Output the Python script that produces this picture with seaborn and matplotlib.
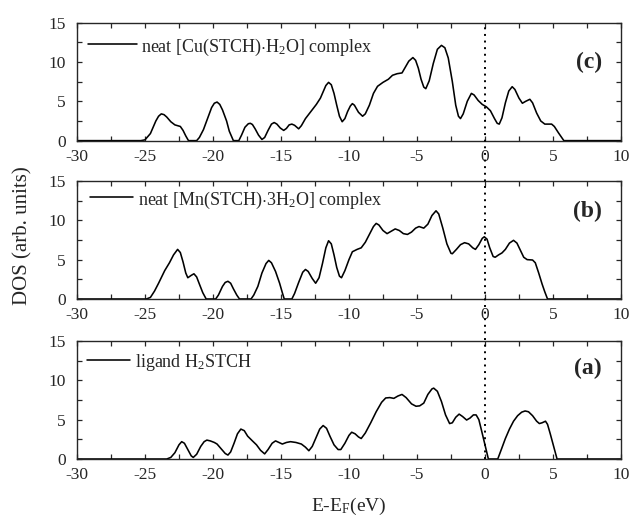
import numpy as np
import pandas as pd
import matplotlib
matplotlib.use("Agg")
import matplotlib.pyplot as plt
from matplotlib.lines import Line2D
import seaborn as sns

# Total density of states, energies relative to the Fermi level (eV)
energy_cu = [-30, -25.3, -25.0, -24.6, -24.2, -24.0, -23.8, -23.6, -23.4, -23.1, -22.8, -22.6,
             -22.4, -22.2, -22.0, -21.8, -21.2, -21.0, -20.7, -20.4, -20.1, -19.9, -19.7,
             -19.5, -19.3, -19.0, -18.8, -18.6, -18.5, -18.1, -17.9, -17.65, -17.4, -17.25,
             -17.1, -16.9, -16.65, -16.4, -16.2, -15.95, -15.7, -15.5, -15.3, -15.05, -14.8,
             -14.6, -14.4, -14.2, -14.0, -13.7, -13.5, -13.2, -12.8, -12.4, -12.1, -11.9,
             -11.7, -11.5, -11.3, -11.1, -10.9, -10.7, -10.5, -10.3, -10.1, -9.9, -9.75,
             -9.6, -9.3, -9.0, -8.8, -8.5, -8.2, -7.9, -7.5, -7.1, -6.8, -6.46, -6.1, -5.9,
             -5.6, -5.3, -5.1, -4.9, -4.7, -4.5, -4.35, -4.1, -3.8, -3.5, -3.2, -2.95, -2.7,
             -2.4, -2.15, -1.95, -1.8, -1.6, -1.3, -1.0, -0.8, -0.5, -0.2, 0.1, 0.4, 0.7,
             0.9, 1.05, 1.25, 1.5, 1.75, 2.0, 2.2, 2.5, 2.75, 3.0, 3.3, 3.5, 3.8, 4.1, 4.4,
             4.9, 5.1, 5.4, 5.8, 10]
dos_cu = [0, 0, 0.1, 0.9, 2.5, 3.1, 3.4, 3.3, 3.0, 2.4, 2.0, 1.9,
          1.8, 1.3, 0.6, 0, 0, 0.4, 1.4, 2.8, 4.2, 4.75, 4.9,
          4.6, 3.9, 2.5, 1.2, 0.4, 0, 0, 0.7, 1.7, 2.15, 2.2,
          2.05, 1.5, 0.7, 0.15, 0.4, 1.3, 2.1, 2.3, 2.1, 1.6, 1.3,
          1.55, 2.0, 2.1, 1.95, 1.5, 1.9, 2.8, 3.7, 4.6, 5.4, 6.2,
          7.0, 7.4, 7.1, 6.0, 4.5, 3.1, 2.4, 2.8, 3.7, 4.4, 4.7,
          4.5, 3.6, 3.1, 3.4, 4.5, 6.0, 6.9, 7.4, 7.8, 8.3, 8.5, 8.6, 9.2,
          10.1, 10.55, 10.2, 9.2, 7.8, 6.8, 6.6, 7.6, 9.8, 11.6, 12.1, 11.8, 10.5,
          7.5, 4.5, 3.1, 2.8, 3.4, 5.0, 6.0, 5.8, 5.1, 4.6, 4.3, 3.8, 2.8,
          2.2, 2.1, 2.9, 4.8, 6.3, 6.85, 6.5, 5.4, 4.75, 5.0, 5.25, 4.8, 3.5, 2.5, 2.1,
          2.1, 1.8, 1.0, 0, 0]

energy_mn = [-30, -24.9, -24.6, -24.3, -24.0, -23.55, -23.2, -22.9, -22.6, -22.4, -22.2,
             -22.0, -21.85, -21.6, -21.4, -21.2, -21.0, -20.75, -20.5, -19.8, -19.6, -19.3,
             -19.1, -18.9, -18.7, -18.5, -18.25, -18.05, -17.2, -17.0, -16.7, -16.4, -16.1,
             -15.9, -15.7, -15.4, -15.1, -14.9, -14.76, -14.2, -14.0, -13.7, -13.4, -13.2,
             -13.0, -12.7, -12.45, -12.2, -11.95, -11.7, -11.5, -11.3, -11.1, -10.9, -10.7,
             -10.55, -10.3, -10.0, -9.75, -9.4, -9.1, -8.8, -8.5, -8.2, -8.0, -7.8, -7.5,
             -7.2, -6.9, -6.6, -6.3, -6.0, -5.7, -5.4, -5.1, -4.85, -4.5, -4.2, -3.9, -3.6,
             -3.4, -3.1, -2.8, -2.5, -2.4, -2.1, -1.8, -1.5, -1.2, -0.9, -0.7, -0.45, -0.2,
             -0.05, 0.15, 0.35, 0.6, 0.75, 1.0, 1.25, 1.5, 1.8, 2.1, 2.35, 2.6, 2.85, 3.1,
             3.5, 3.7, 3.95, 4.2, 4.4, 4.6, 10]
dos_mn = [0, 0, 0.2, 1.0, 2.0, 3.6, 4.6, 5.6, 6.3, 5.9, 4.7,
          3.3, 2.7, 3.0, 3.2, 2.8, 1.9, 0.8, 0, 0, 0.5, 1.6,
          2.1, 2.25, 2.0, 1.3, 0.5, 0, 0, 0.5, 1.6, 3.3, 4.5,
          4.9, 4.6, 3.5, 2.0, 0.8, 0, 0, 0.7, 2.1, 3.4, 3.75,
          3.5, 2.6, 2.0, 2.7, 4.5, 6.5, 7.4, 7.0, 5.6, 4.0, 2.9,
          2.7, 3.6, 5.0, 6.0, 6.3, 6.5, 7.2, 8.2, 9.2, 9.6, 9.4, 8.7,
          8.3, 8.6, 8.9, 8.7, 8.3, 8.2, 8.5, 9.0, 9.2, 9.0, 9.5, 10.6, 11.2,
          10.8, 9.0, 7.0, 5.8, 5.75, 6.3, 6.9, 7.15, 7.0, 6.5, 6.3, 6.9, 7.7,
          7.9, 7.6, 6.5, 5.4, 5.3, 5.6, 5.85, 6.3, 7.1, 7.45, 7.1, 6.2, 5.3, 5.0,
          4.95, 4.6, 3.3, 1.9, 0.9, 0, 0]

energy_lig = [-30, -23.4, -23.1, -22.8, -22.5, -22.3, -22.1, -21.85, -21.6, -21.45, -21.2,
              -20.9, -20.65, -20.45, -20.2, -19.9, -19.7, -19.4, -19.1, -18.9, -18.7, -18.45,
              -18.2, -17.95, -17.7, -17.45, -17.1, -16.8, -16.5, -16.2, -15.95, -15.65, -15.4,
              -15.15, -14.9, -14.6, -14.3, -13.9, -13.5, -13.2, -12.95, -12.7, -12.4, -12.15,
              -11.9, -11.65, -11.4, -11.1, -10.8, -10.6, -10.3, -10.0, -9.8, -9.55, -9.3,
              -9.1, -8.8, -8.4, -8.0, -7.6, -7.3, -7.0, -6.7, -6.4, -6.1, -5.8, -5.4, -5.07,
              -4.8, -4.5, -4.2, -3.9, -3.77, -3.5, -3.2, -2.9, -2.6, -2.4, -2.15, -1.9, -1.65,
              -1.35, -1.1, -0.85, -0.65, -0.45, -0.25, 0.0, 0.25, 0.94, 1.2, 1.5, 1.8, 2.1,
              2.4, 2.7, 2.95, 3.2, 3.5, 3.8, 4.0, 4.2, 4.45, 4.6, 4.8, 5.05, 5.3, 10]
dos_lig = [0, 0, 0.2, 0.8, 1.8, 2.2, 2.0, 1.2, 0.4, 0.2, 0.6,
           1.6, 2.2, 2.4, 2.3, 2.1, 1.9, 1.3, 0.7, 0.5, 0.9, 2.0,
           3.2, 3.8, 3.6, 2.9, 2.3, 1.8, 1.1, 0.65, 1.2, 2.0, 2.3,
           2.1, 1.9, 2.1, 2.2, 2.1, 1.9, 1.5, 1.05, 1.6, 2.8, 3.8,
           4.25, 3.9, 2.9, 1.8, 1.2, 1.2, 2.0, 3.0, 3.4, 3.2, 2.8,
           2.6, 3.3, 4.6, 6.0, 7.2, 7.75, 7.8, 7.7, 8.0, 8.2, 7.8, 7.0, 6.7,
           6.75, 7.1, 8.2, 8.9, 9.0, 8.6, 7.3, 5.6, 4.5, 4.6, 5.3, 5.7, 5.4,
           4.95, 5.2, 5.6, 5.6, 5.0, 3.6, 1.8, 0, 0, 1.2, 2.6, 3.8, 4.8,
           5.5, 5.95, 6.1, 6.0, 5.5, 4.8, 4.5, 4.6, 4.8, 4.4, 3.2, 1.6, 0, 0]

series_labels = [r"neat [Cu(STCH)$\cdot$H$_2$O] complex",
                 r"neat [Mn(STCH)$\cdot$3H$_2$O] complex",
                 r"ligand H$_2$STCH"]
panel_tags = ["(c)", "(b)", "(a)"]
x_ticks = [-30, -25, -20, -15, -10, -5, 0, 5, 10]
y_ticks = [0, 5, 10, 15]

sns.set_style("ticks")
plt.rcParams["font.family"] = ["Liberation Serif", "DejaVu Serif"]
plt.rcParams["mathtext.fontset"] = "custom"
plt.rcParams["mathtext.rm"] = "Liberation Serif"
plt.rcParams["mathtext.it"] = "Liberation Serif:italic"
plt.rcParams["mathtext.bf"] = "Liberation Serif:bold"
plt.rcParams["axes.unicode_minus"] = False

fig = plt.figure(figsize=(6.33, 5.18), dpi=100)
left, width, height = 0.1216, 0.8594, 0.228
bottoms = [0.7285, 0.4228, 0.1139]

frames = [
    pd.DataFrame({"E": energy_cu, "DOS": dos_cu}),
    pd.DataFrame({"E": energy_mn, "DOS": dos_mn}),
    pd.DataFrame({"E": energy_lig, "DOS": dos_lig}),
]
legend_geom = [  # (x0, x1, y) of the key line, x of the text, in axes units
    (0.020, 0.110, 0.820, 0.118),
    (0.024, 0.103, 0.864, 0.112),
    (0.018, 0.097, 0.840, 0.107),
]
tag_y = [0.66, 0.745, 0.77]

for i, df in enumerate(frames):
    ax = fig.add_axes([left, bottoms[i], width, height])
    sns.lineplot(data=df, x="E", y="DOS", ax=ax, color="black", lw=1.15,
                 estimator=None, sort=False)
    ax.set_xlim(-30, 10)
    ax.set_ylim(0, 15)
    ax.set_xticks(x_ticks)
    ax.set_xticks(np.arange(-30, 10.1, 2.5), minor=True)
    ax.set_yticks(y_ticks)
    ax.set_yticks(np.arange(0, 15.1, 2.5), minor=True)
    ax.tick_params(which="both", direction="in", top=True, right=True,
                   length=3.5, width=0.9, labelsize=12.5)
    ax.tick_params(axis="x", pad=6)
    ax.tick_params(axis="y", pad=8)
    ax.set_xlabel("")
    ax.set_ylabel("")
    for s in ax.spines.values():
        s.set_linewidth(1.0)
        s.set_visible(True)
    x0, x1, ly, tx = legend_geom[i]
    ax.plot([x0, x1], [ly, ly], transform=ax.transAxes, color="black", lw=1.15)
    ax.text(tx, ly - 0.065, series_labels[i], transform=ax.transAxes,
            va="baseline", ha="left", fontsize=13)
    ax.text(0.965, tag_y[i], panel_tags[i], transform=ax.transAxes,
            ha="right", va="center", fontsize=17, fontweight="bold")

# Fermi level marker running through all three panels
x_fermi = left + width * (0 - (-30)) / 40
fig.add_artist(Line2D([x_fermi, x_fermi], [bottoms[2], bottoms[0] + height],
                      transform=fig.transFigure, color="black", lw=1.4,
                      linestyle=(0, (1, 2.4)), zorder=5))

fig.text(0.036, 0.546, "DOS (arb. units)", rotation=90, ha="center", va="center",
         fontsize=15)
fig.text(left + width / 2, 0.022, r"E-E$_\mathrm{F}$(eV)", ha="center",
         va="center", fontsize=14)

fig.savefig("out.png", dpi=100)
